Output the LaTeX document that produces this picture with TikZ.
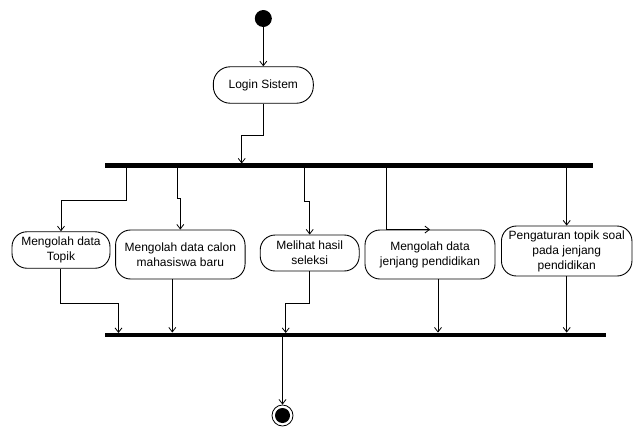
\documentclass[tikz,border=0pt]{standalone}
\usepackage{fontspec}
\setmainfont{Liberation Sans}
\usetikzlibrary{arrows.meta}
\begin{document}
\begin{tikzpicture}[x=1pt,y=-1pt,
  act/.style={draw,line width=0.9pt,rounded corners=15pt,inner sep=0pt,align=center,
    font=\fontsize{12}{15}\selectfont},
  bar/.style={fill=black,inner sep=0pt,minimum height=4.5pt},
  arr/.style={line width=0.8pt,-{Straight Barb[length=4.5pt,width=7pt,line width=0.8pt]}},
  ln/.style={line width=0.8pt}]
\useasboundingbox (0,0) rectangle (642,437);
\node[circle,fill=black,minimum size=17pt,inner sep=0pt] (start) at (263.3,18.5) {};
\node[act,rounded corners=17pt,minimum width=100pt,minimum height=36.5pt] (login) at (263.3,85) {Login Sistem};
\node[bar,minimum width=488pt] (top) at (349,165.7) {};
\node[bar,minimum width=501pt] (bot) at (355.5,335) {};
\node[act,minimum width=98pt,minimum height=36.5pt] (b1) at (61,250) {Mengolah data\\Topik};
\node[act,minimum width=129.5pt,minimum height=49pt] (b2) at (180.3,254.5) {Mengolah data calon\\mahasiswa baru};
\node[act,minimum width=99pt,minimum height=36pt] (b3) at (309.7,253) {Melihat hasil\\seleksi};
\node[act,minimum width=130pt,minimum height=49pt] (b4) at (430,254.5) {Mengolah data\\jenjang pendidikan};
\node[act,minimum width=130.5pt,minimum height=50pt] (b5) at (566.7,251) {Pengaturan topik soal\\pada jenjang\\pendidikan};
\node[circle,draw,line width=0.8pt,minimum size=21pt,inner sep=0pt] (end) at (282.5,415.5) {};
\node[circle,fill=black,minimum size=15pt,inner sep=0pt] at (end) {};
% coordinates on bars
\coordinate (t0) at (241.7,163.5);
\coordinate (t1) at (126.3,166);
\coordinate (t2) at (177.3,166);
\coordinate (t3) at (304.3,166);
\coordinate (t4) at (386.3,166);
\coordinate (t5) at (566.7,166);
\coordinate (u1) at (118.5,333);
\coordinate (u3) at (285.7,333);
\coordinate (e0) at (282.5,335);
% connectors
\draw[arr] (start) -- (login);
\draw[arr] (login.south) -- ++(0,31.7) -| (t0);
\draw[arr] (t1) -- ++(0,34) -| (b1.north);
\draw[arr] (t2) -- ++(0,32) -| (b2.north);
\draw[arr] (t3) -- ++(0,35.5) -| (b3.north);
\draw[arr] (t4) |- (b4.north);
\draw[arr] (t5) -- (b5.north);
\draw[arr] (b1.south -| 60,0) -- ++(0,35) -| (u1);
\draw[arr] ([xshift=-8pt]b2.south) -- ([xshift=-8pt]b2.south |- bot.north);
\draw[arr] (b3.south) -- ++(0,32) -| (u3);
\draw[arr] ([xshift=8pt]b4.south) -- ([xshift=8pt]b4.south |- bot.north);
\draw[arr] (b5.south) -- (b5.south |- bot.north);
\draw[arr] (e0) -- (end);
\end{tikzpicture}
\end{document}
